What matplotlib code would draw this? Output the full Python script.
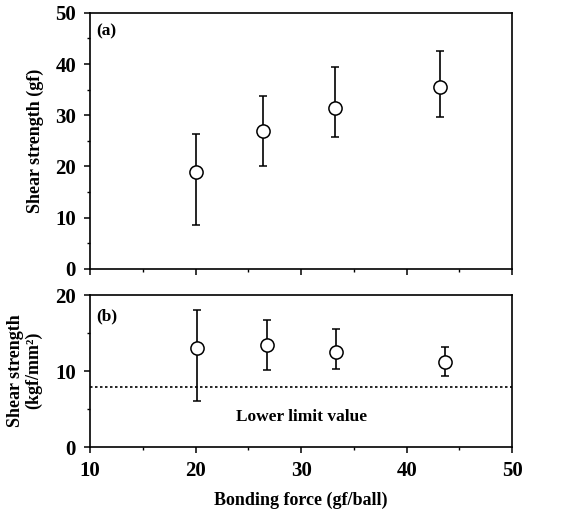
import numpy as np
import matplotlib
matplotlib.use('Agg')
import matplotlib.pyplot as plt
from matplotlib.ticker import MultipleLocator

plt.rcParams['font.family'] = ['Liberation Serif', 'DejaVu Serif']
plt.rcParams['font.weight'] = 'bold'

# (a) shear strength in gf
force_a = [20.0, 26.4, 33.2, 43.2]
shear_a = [19.0, 26.9, 31.4, 35.5]
err_lo_a = [10.4, 6.9, 5.7, 5.9]
err_hi_a = [7.4, 6.8, 8.1, 7.0]

# (b) shear strength in kgf/mm^2
force_b = [20.1, 26.8, 33.3, 43.6]
shear_b = [13.1, 13.4, 12.5, 11.2]
err_lo_b = [7.0, 3.3, 2.2, 1.9]
err_hi_b = [5.0, 3.3, 3.0, 2.0]
lower_limit = 7.9

fig = plt.figure(figsize=(5.66, 5.15), dpi=100)
ax1 = fig.add_axes([0.159, 0.478, 0.746, 0.497])
ax2 = fig.add_axes([0.159, 0.132, 0.746, 0.295])

style = dict(fmt='o', mfc='white', mec='black', ms=9.5, mew=1.1,
             ecolor='black', elinewidth=1.2, capsize=3, capthick=1.2)

ax1.errorbar(force_a, shear_a, yerr=[err_lo_a, err_hi_a], **style)
ax2.errorbar(force_b, shear_b, yerr=[err_lo_b, err_hi_b], **style)
ax2.axhline(lower_limit, color='black', linestyle=(0, (1.5, 1.5)), linewidth=1.2)
ax2.text(30, 3.9, 'Lower limit value', ha='center', va='center', fontsize=12.5)

ax1.set_ylim(0, 50)
ax2.set_ylim(0, 20)
for ax in (ax1, ax2):
    ax.set_xlim(10, 50)
    ax.xaxis.set_major_locator(MultipleLocator(10))
    ax.xaxis.set_minor_locator(MultipleLocator(5))
    ax.tick_params(which='major', direction='out', length=4, width=1.1,
                   labelsize=15, top=False, right=False)
    ax.tick_params(which='minor', direction='out', length=2, width=1.0,
                   top=False, right=False)
    ax.tick_params(axis='y', pad=6)
    ax.tick_params(axis='x', pad=6)
    for s in ax.spines.values():
        s.set_linewidth(1.2)
    for lab in ax.get_xticklabels() + ax.get_yticklabels():
        lab.set_fontweight('bold')

ax1.yaxis.set_major_locator(MultipleLocator(10))
ax1.yaxis.set_minor_locator(MultipleLocator(5))
ax2.yaxis.set_major_locator(MultipleLocator(10))
ax2.yaxis.set_minor_locator(MultipleLocator(5))
ax1.tick_params(axis='x', labelbottom=False)

ax1.text(0.014, 0.96, '(a)', transform=ax1.transAxes, ha='left', va='top', fontsize=12.5)
ax2.text(0.014, 0.915, '(b)', transform=ax2.transAxes, ha='left', va='top', fontsize=12.5)

fig.text(0.062, 0.726, 'Shear strength (gf)', rotation=90, ha='center', va='center',
         fontsize=13, fontweight='bold')
fig.text(0.043, 0.280, 'Shear strength\n(kgf/mm²)', rotation=90, ha='center',
         va='center', fontsize=13, fontweight='bold', linespacing=1.1,
         multialignment='center')
fig.text(0.532, 0.029, 'Bonding force (gf/ball)', ha='center', va='center',
         fontsize=13, fontweight='bold')

fig.savefig('out.png', dpi=100)
